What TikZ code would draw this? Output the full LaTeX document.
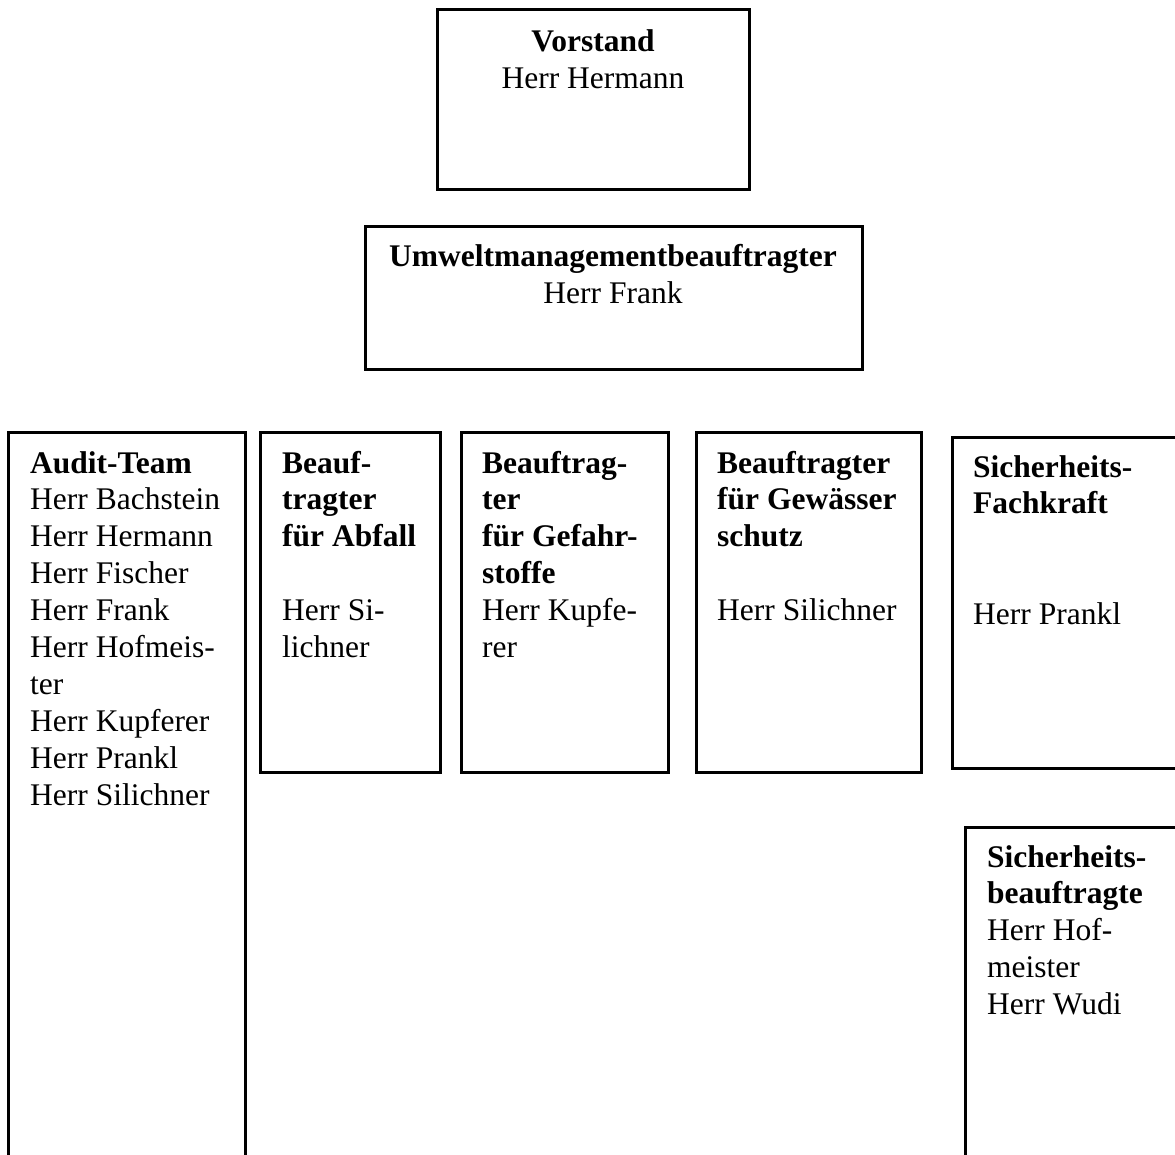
\documentclass[tikz,border=0pt]{standalone}
\usepackage{fontspec}
\setmainfont{Liberation Serif}
\begin{document}
\begin{tikzpicture}[x=1pt,y=-1pt,
  boxline/.style={draw=black,line width=3pt},
  txt/.style={inner sep=0pt,align=left,anchor=base west,font=\fontsize{31.5}{36.9}\selectfont},
  ctxt/.style={inner sep=0pt,align=center,anchor=base,font=\fontsize{31.5}{36.9}\selectfont}]
\useasboundingbox (0,0) rectangle (1175,1155);
\clip (0,0) rectangle (1175,1155);
% boxes
\draw[boxline] (437,10) rectangle (749,190) coordinate (vorstandbox);
\draw[boxline] (365,227) rectangle (862,370) coordinate (umweltbox);
\draw[boxline] (8,432) rectangle (245,1200) coordinate (auditbox);
\draw[boxline] (260,432) rectangle (440,772) coordinate (abfallbox);
\draw[boxline] (461,432) rectangle (668,772) coordinate (gefahrbox);
\draw[boxline] (696,432) rectangle (921,772) coordinate (gewaesserbox);
\draw[boxline] (952,437) rectangle (1200,768) coordinate (fachkraftbox);
\draw[boxline] (965,827) rectangle (1200,1200) coordinate (sibebox);
% texts (anchored at the baseline of the last line)
\node[ctxt] (vorstand) at (593,88.9) {\textbf{Vorstand}\\Herr Hermann};
\node[ctxt] (umwelt) at (613,303.9) {\textbf{Umweltmanagementbeauftragter}\\Herr Frank};
\node[txt] (audit) at (30,805.1) {\textbf{Audit-Team}\\Herr Bachstein\\Herr Hermann\\Herr Fischer\\Herr Frank\\Herr Hofmeis-\\ter\\Herr Kupferer\\Herr Prankl\\Herr Silichner};
\node[txt] (abfall) at (282,657.5) {\textbf{Beauf-}\\\textbf{tragter}\\\textbf{für Abfall}\\[36.9pt]Herr Si-\\lichner};
\node[txt] (gefahr) at (482,657.5) {\textbf{Beauftrag-}\\\textbf{ter}\\\textbf{für Gefahr-}\\\textbf{stoffe}\\Herr Kupfe-\\rer};
\node[txt] (gewaesser) at (717,620.6) {\textbf{Beauftragter}\\\textbf{für Gewässer}\\\textbf{schutz}\\[36.9pt]Herr Silichner};
\node[txt] (fachkraft) at (973,624.6) {\textbf{Sicherheits-}\\\textbf{Fachkraft}\\[73.8pt]Herr Prankl};
\node[txt] (sibe) at (987,1014.6) {\textbf{Sicherheits-}\\\textbf{beauftragte}\\Herr Hof-\\meister\\Herr Wudi};
\end{tikzpicture}
\end{document}
